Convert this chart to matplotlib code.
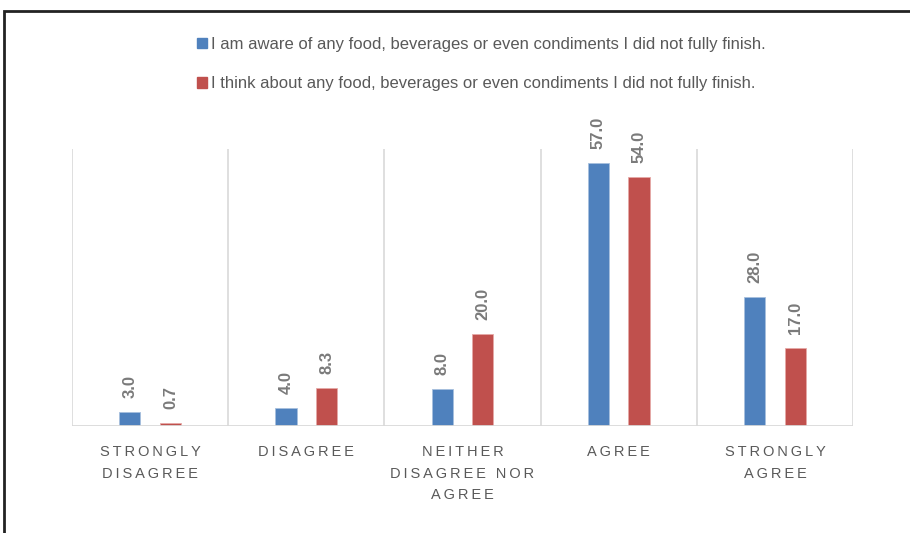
import matplotlib
matplotlib.use("Agg")
import matplotlib.pyplot as plt
import numpy as np
from matplotlib.patches import Rectangle, Patch

categories = ["STRONGLY\nDISAGREE", "DISAGREE", "NEITHER\nDISAGREE NOR\nAGREE", "AGREE", "STRONGLY\nAGREE"]
aware = [3.0, 4.0, 8.0, 57.0, 28.0]
think = [0.7, 8.3, 20.0, 54.0, 17.0]
series_names = [
    "I am aware of any food, beverages or even condiments I did not fully finish.",
    "I think about any food, beverages or even condiments I did not fully finish.",
]

BLUE = "#4F81BD"
RED = "#C0504D"
GREY_TXT = "#595959"
LABEL_TXT = "#7A7A7A"
GRID = "#D9D9D9"

plt.rcParams["font.family"] = ["Liberation Sans", "DejaVu Sans"]


def spaced(s):
    # spread the capitals out a bit like the Office axis style
    return "\n".join("\u2009".join(line) for line in s.split("\n"))


fig = plt.figure(figsize=(9.1, 5.33), dpi=100)
ax = fig.add_axes([72 / 910, 1 - 426 / 533, 781 / 910, 277 / 533])

x = np.arange(len(categories))
w = 0.135
off = 0.13
b1 = ax.bar(x - off, aware, w, color=BLUE, edgecolor="#A7C0DE", linewidth=0.6, zorder=3)
b2 = ax.bar(x + off, think, w, color=RED, edgecolor="#E6A9A7", linewidth=0.6, zorder=3)

for bars, vals in ((b1, aware), (b2, think)):
    for rect, v in zip(bars, vals):
        ax.annotate(f"{v:.1f}", (rect.get_x() + rect.get_width() / 2, v),
                    xytext=(0, 10), textcoords="offset points",
                    rotation=90, ha="center", va="bottom",
                    fontsize=12, fontweight="bold", color=LABEL_TXT)

ax.set_xlim(-0.5, len(categories) - 0.5)
ax.set_ylim(0, 60)
for b in np.arange(-0.5, len(categories) + 0.5, 1):
    ax.axvline(b, color=GRID, lw=1.2, zorder=1)
ax.axhline(0, color=GRID, lw=2, zorder=4)
for s in ax.spines.values():
    s.set_visible(False)
ax.set_yticks([])
ax.set_xticks(x)
ax.set_xticklabels([spaced(c) for c in categories], fontsize=10.5, color=GREY_TXT,
                   linespacing=1.65)
ax.tick_params(axis="x", length=0, pad=14)

handles = [Patch(color=BLUE), Patch(color=RED)]
fig.legend(handles, series_names, loc="center", bbox_to_anchor=(481 / 910, 1 - 64 / 533),
           ncol=1, frameon=False, fontsize=12, labelcolor=GREY_TXT,
           handlelength=0.6, handleheight=0.6, handletextpad=0.25, labelspacing=1.45)

fig.add_artist(Rectangle((4 / 910, -0.1), 1.2, 1 - 11 / 533 + 0.1, transform=fig.transFigure,
                         fill=False, edgecolor="#222222", lw=2))

fig.savefig("out.png", dpi=100)
